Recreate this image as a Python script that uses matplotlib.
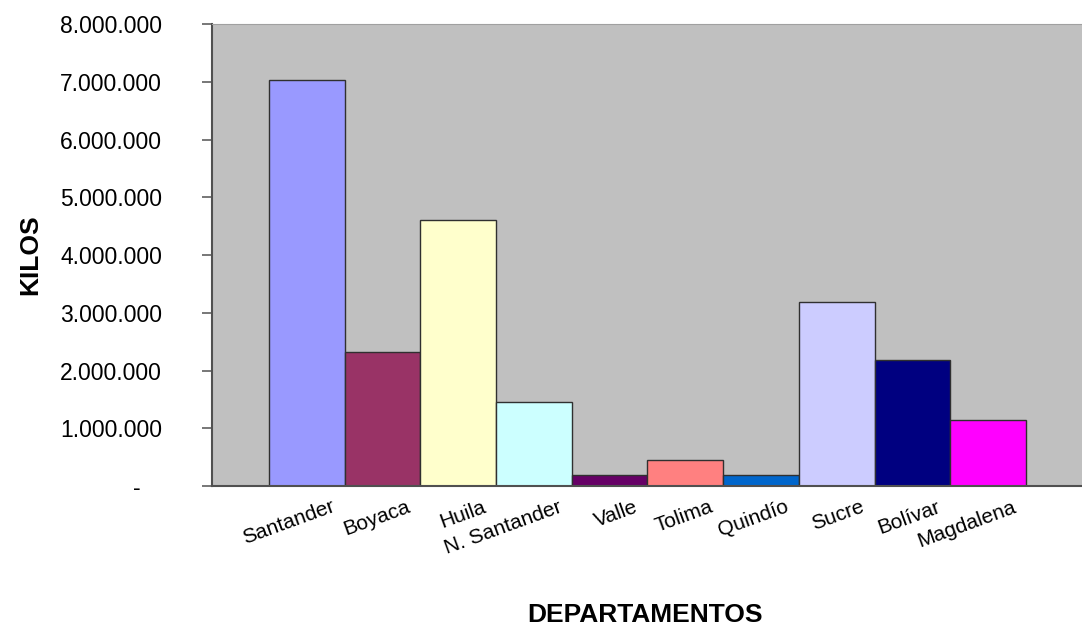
import matplotlib
matplotlib.use("Agg")
import matplotlib.pyplot as plt
import matplotlib.transforms as mtransforms

departamentos = ["Santander", "Boyaca", "Huila", "N. Santander", "Valle",
                 "Tolima", "Quindío", "Sucre", "Bolívar", "Magdalena"]
kilos = [7030000, 2320000, 4610000, 1450000, 200000,
         450000, 200000, 3180000, 2180000, 1140000]
colores = ["#9999FF", "#993366", "#FFFFCC", "#CCFFFF", "#660066",
           "#FF8080", "#0066CC", "#CCCCFF", "#000080", "#FF00FF"]
y_ticks = [0, 1000000, 2000000, 3000000, 4000000, 5000000, 6000000, 7000000, 8000000]
y_labels = ["-", "1.000.000", "2.000.000", "3.000.000", "4.000.000",
            "5.000.000", "6.000.000", "7.000.000", "8.000.000"]

plt.rcParams["font.family"] = ["Liberation Sans", "DejaVu Sans"]

fig = plt.figure(figsize=(10.82, 6.33), dpi=100)
ax = fig.add_axes([0.196, 0.232, 0.804, 0.730])
ax.set_facecolor("#C0C0C0")

x = list(range(len(departamentos)))
ax.bar(x, kilos, width=1.0, color=colores, edgecolor="#303030", linewidth=1.0)

ax.set_xlim(-1.25, 10.24)
ax.set_ylim(0, 8000000)

ax.set_yticks(y_ticks)
ax.set_yticklabels(y_labels, fontsize=16.5)
ax.tick_params(axis="y", length=7, width=1.2, color="#606060", pad=29)

ax.set_xticks(x)
ax.set_xticklabels(departamentos, fontsize=15, rotation=20, ha="right",
                   rotation_mode="anchor")
ax.tick_params(axis="x", length=0, pad=8)

shift = mtransforms.ScaledTranslation(24 / 100, 0, fig.dpi_scale_trans)
for lbl in ax.get_xticklabels():
    lbl.set_transform(lbl.get_transform() + shift)

zero_shift = mtransforms.ScaledTranslation(-21 / 100, 0, fig.dpi_scale_trans)
zl = ax.get_yticklabels()[0]
zl.set_transform(zl.get_transform() + zero_shift)

for s in ["left", "bottom"]:
    ax.spines[s].set_color("#505050")
    ax.spines[s].set_linewidth(1.5)
ax.spines["top"].set_color("#A0A0A0")
ax.spines["right"].set_visible(False)

fig.text(0.028, 0.597, "KILOS", rotation=90, fontsize=19, fontweight="bold",
         ha="center", va="center")
fig.text(0.596, 0.028, "DEPARTAMENTOS", fontsize=19, fontweight="bold",
         ha="center", va="center")

fig.savefig("out.png", dpi=100)
